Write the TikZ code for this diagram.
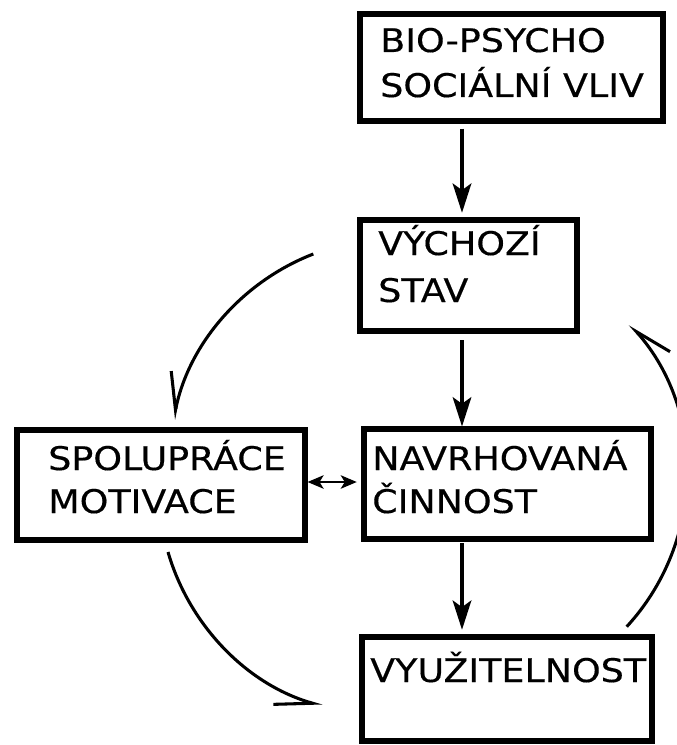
\documentclass[tikz,border=0pt]{standalone}
\usepackage{fontspec}
\setmainfont{DejaVu Sans}[FakeStretch=1.12,FakeBold=0.4]
\usetikzlibrary{arrows.meta,fit}
\begin{document}
\begin{tikzpicture}[x=0.75pt,y=-0.75pt,
  box/.style={draw,line width=3.8pt,rectangle,inner sep=0pt},
  txt/.style={anchor=base west,inner sep=0pt,font=\fontsize{24.4pt}{28pt}\selectfont},
  flow/.style={line width=2.3pt,-{Stealth[length=22pt,width=14pt,inset=5pt]}},
  both/.style={line width=2pt,{Stealth[length=12pt,width=10pt,inset=3pt]}-{Stealth[length=12pt,width=10pt,inset=3pt]}},
  cyc/.style={line width=2.3pt,-{Straight Barb[harpoon,swap,length=28pt,width=18pt]}}]
\useasboundingbox (0,0) rectangle (676,745);
% boxes
\node[box,fit={(360,14) (663,121)}] (bio) {};
\node[box,fit={(360,220) (577,331)}] (vych) {};
\node[box,fit={(364,429) (651,539)}] (navr) {};
\node[box,fit={(17,430) (305,540)}] (spol) {};
\node[box,fit={(362,637) (652,741)}] (vyuz) {};
% texts
\node[txt] (t1) at (380,52) {BIO-PSYCHO};
\node[txt] (t2) at (380,97) {SOCIÁLNÍ VLIV};
\node[txt] (t3) at (378,255) {VÝCHOZÍ};
\node[txt] (t4) at (378,302) {STAV};
\node[txt] (t5) at (372,470) {NAVRHOVANÁ};
\node[txt] (t6) at (372,513) {ČINNOST};
\node[txt] (t7) at (48,470) {SPOLUPRÁCE};
\node[txt] (t8) at (48,513) {MOTIVACE};
\node[txt] (t9) at (370,682) {VYUŽITELNOST};
% straight connectors
\coordinate (ax) at (462,0);
\coordinate (ay) at (0,482);
\draw[flow,shorten <=3.75pt,shorten >=3.5pt] (bio.south -| ax) -- (vych.north -| ax);
\draw[flow,shorten <=5pt] (vych.south -| ax) -- (navr.north -| ax);
\draw[flow,shorten <=1.3pt,shorten >=3.5pt] (navr.south -| ax) -- (vyuz.north -| ax);
\draw[both,shorten >=3.5pt] (spol.east |- ay) -- (navr.west |- ay);
% cycle arcs
\coordinate (c1) at (313.3,254);
\coordinate (c2) at (168,552);
\coordinate (c3) at (626.7,626.7);
\draw[cyc] (c1) arc[start angle=-111.2,end angle=-168.5,radius=226];
\draw[cyc] (c2) arc[start angle=163.8,end angle=106.2,radius=226];
\draw[cyc] (c3) arc[start angle=42.6,end angle=-41.4,radius=226];
\end{tikzpicture}
\end{document}
